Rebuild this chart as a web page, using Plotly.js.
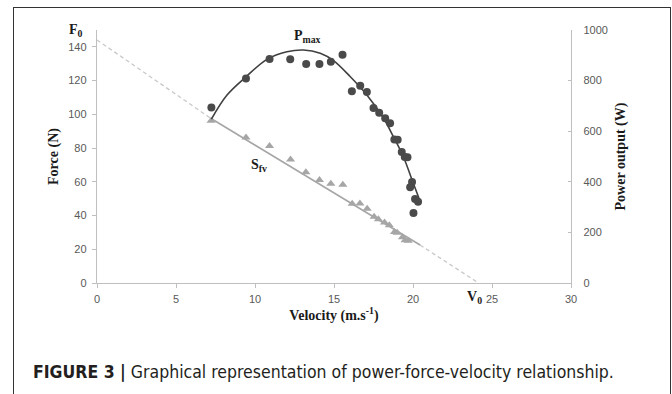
<!DOCTYPE html>
<html>
<head>
<meta charset="utf-8">
<script src="https://cdn.plot.ly/plotly-3.0.1.min.js"></script>
<style>
  html, body { margin: 0; padding: 0; background: #fff; }
  #wrap { position: relative; width: 672px; height: 394px; overflow: hidden; }
  #chart { position: absolute; left: 0; top: 0; width: 672px; height: 394px; }
  #frame { position: absolute; left: 13px; top: 7px; width: 656px; height: 420px; border: 1px solid #333; pointer-events: none; }
</style>
</head>
<body>
<div id="wrap">
  <div id="chart"></div>
  <div id="frame"></div>
</div>
<script>
// Force-velocity trial data (triangles, left axis)
const forceVel = [7.22, 9.43, 10.92, 12.25, 13.22, 14.08, 14.8, 15.56, 16.15, 16.64, 17.1, 17.54, 17.81, 18.2, 18.5, 18.83, 19.0, 19.33, 19.5, 19.7];
const forceN   = [96.2, 86.2, 81.2, 73.2, 65.6, 61.0, 58.9, 58.3, 47.0, 47.2, 44.0, 39.3, 37.8, 35.8, 34.2, 30.2, 29.8, 27.1, 25.3, 25.1];

// Power-velocity trial data (circles, right axis)
const powerVel = [7.24, 9.43, 10.92, 12.23, 13.24, 14.08, 14.8, 15.54, 16.13, 16.66, 17.08, 17.5, 17.86, 18.24, 18.55, 18.82, 19.03, 19.29, 19.48, 19.65, 19.94, 19.82, 20.13, 20.32, 20.03];
const powerW   = [694, 808, 885, 884, 866, 866, 875, 902, 758, 780, 755, 692, 673, 651, 631, 567, 566, 518, 498, 497, 399, 378, 332, 321, 277];

// Power trend curve
const curveVel = [7.24, 8.23, 9.43, 10.76, 12.02, 13.07, 14.13, 14.97, 16.02, 17.08, 18.13, 18.76, 19.39, 20.02, 20.4];
const curveW   = [648, 743, 815, 884, 914, 921, 908, 879, 816, 743, 652, 578, 499, 394, 331];

// Force-velocity linear relation (solid part + dashed extrapolations)
const fitVel      = [7.22, 20.45];
const fitForce    = [97.5, 22.5];
const extVel      = [0, 7.22, null, 20.45, 24.15];
const extForce    = [144.1, 97.5, null, 22.5, 0];

// Axis ticks
const xTicks = [0, 5, 10, 15, 20, 25, 30];
const yTicks = [0, 20, 40, 60, 80, 100, 120, 140];
const y2Ticks = [0, 200, 400, 600, 800, 1000];

const SANS = "'Liberation Sans', Arial, Helvetica, sans-serif";
const SERIF = "'Liberation Serif', 'Times New Roman', Times, serif";
const NARROW = "'Liberation Sans Narrow', 'Arial Narrow', 'DejaVu Sans Condensed', sans-serif";

const tickFont = {family: SANS, size: 11, color: '#595959'};
const titleFont = {family: SERIF, size: 14, color: '#1a1a1a', weight: 'bold'};
const labelFont = {family: SERIF, size: 14, color: '#1a1a1a', weight: 'bold'};
const axisColor = '#bfbfbf';

const traces = [
  {x: extVel, y: extForce, mode: 'lines', line: {color: '#c8c8c8', width: 1.3, dash: '4px,3px'}, hoverinfo: 'skip', showlegend: false},
  {x: fitVel, y: fitForce, mode: 'lines', line: {color: '#a6a6a6', width: 1.6}, showlegend: false},
  {x: forceVel, y: forceN, mode: 'markers', marker: {symbol: 'triangle-up', size: 8, color: '#a6a6a6'}, showlegend: false},
  {x: curveVel, y: curveW, yaxis: 'y2', mode: 'lines', line: {color: '#404040', width: 1.6, shape: 'spline', smoothing: 1}, showlegend: false},
  {x: powerVel, y: powerW, yaxis: 'y2', mode: 'markers', marker: {symbol: 'circle', size: 8, color: '#4a4a4a'}, showlegend: false}
];

const layout = {
  width: 672, height: 394,
  margin: {l: 96.5, r: 101, t: 30, b: 111},
  paper_bgcolor: '#fff', plot_bgcolor: '#fff',
  showlegend: false,
  xaxis: {
    range: [0, 30], tickvals: xTicks, ticktext: xTicks.map(String),
    showgrid: false, zeroline: false, showline: true, linecolor: axisColor, linewidth: 1.2,
    ticks: 'outside', ticklen: 4, tickcolor: axisColor, tickfont: tickFont, ticklabelstandoff: 2,
    title: {text: 'Velocity (m.s<sup>-1</sup>)', font: titleFont, standoff: 0},
    automargin: false
  },
  yaxis: {
    range: [0, 150], tickvals: yTicks, ticktext: yTicks.map(String),
    showgrid: false, zeroline: false, showline: true, linecolor: axisColor, linewidth: 1.2,
    ticks: 'outside', ticklen: 4, tickcolor: axisColor, tickfont: tickFont, ticklabelstandoff: 3,
    title: {text: 'Force (N)', font: titleFont, standoff: 6},
    automargin: false
  },
  yaxis2: {
    range: [0, 1000], tickvals: y2Ticks, ticktext: y2Ticks.map(String),
    overlaying: 'y', side: 'right',
    showgrid: false, zeroline: false, showline: true, linecolor: axisColor, linewidth: 1.2,
    ticks: 'inside', ticklen: 3, tickcolor: axisColor, tickfont: tickFont, ticklabelstandoff: 9,
    title: {text: 'Power output (W)', font: titleFont, standoff: 8},
    automargin: false
  },
  annotations: [
    {xref: 'paper', yref: 'paper', x: (75 - 96.5) / 474.5, y: (283 - 31) / 253, text: 'F<sub>0</sub>', showarrow: false,
     font: labelFont, xanchor: 'center', yanchor: 'middle'},
    {xref: 'paper', yref: 'paper', x: (307 - 96.5) / 474.5, y: (283 - 37) / 253, text: 'P<sub>max</sub>', showarrow: false,
     font: labelFont, xanchor: 'center', yanchor: 'middle'},
    {xref: 'paper', yref: 'paper', x: (259 - 96.5) / 474.5, y: (283 - 165) / 253, text: 'S<sub>fv</sub>', showarrow: false,
     font: labelFont, xanchor: 'center', yanchor: 'middle'},
    {xref: 'paper', yref: 'paper', x: (474 - 96.5) / 474.5, y: (283 - 297) / 253, text: 'V<sub>0</sub>', showarrow: false,
     font: labelFont, xanchor: 'center', yanchor: 'middle'},
    {xref: 'paper', yref: 'paper', x: (30 - 96.5) / 474.5, y: (283 - 372) / 253, xanchor: 'left', yanchor: 'middle', showarrow: false,
     text: '<b>FIGURE 3 |</b> Graphical representation of power-force-velocity relationship.',
     font: {family: NARROW, size: 17.5, color: '#231f20'}}
  ]
};

Plotly.newPlot('chart', traces, layout, {staticPlot: true, displayModeBar: false});
</script>
</body>
</html>
